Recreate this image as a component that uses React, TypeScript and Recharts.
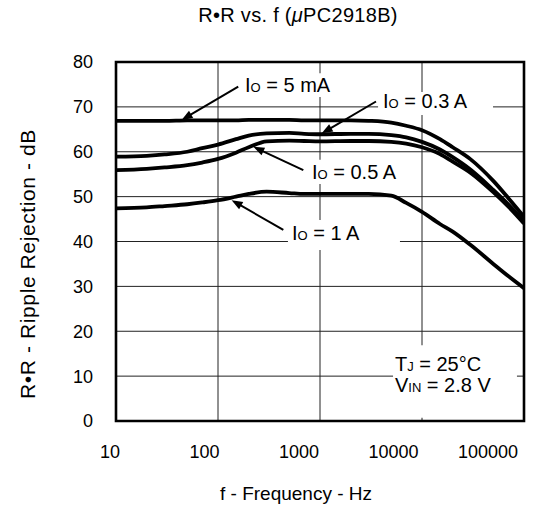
import React from 'react';
import {
  LineChart,
  Line,
  XAxis,
  YAxis,
  CartesianGrid,
  ReferenceArea,
  ReferenceLine,
  ReferenceDot,
} from 'recharts';

const FONT = '"Liberation Sans", Arial, Helvetica, sans-serif';

// ---- data ----
const frequencies = [10, 20, 30, 50, 70, 100, 150, 200, 300, 500, 700, 1000, 2000, 3000, 5000, 7000, 10000, 15000, 20000, 30000, 50000, 70000, 100000];
const io5mA = [66.9, 66.9, 66.9, 67.0, 67.0, 67.0, 67.0, 67.1, 67.1, 67.1, 67.0, 67.0, 67.0, 66.9, 66.5, 65.8, 64.8, 62.8, 61.0, 58.3, 53.5, 49.7, 45.5];
const io03A = [58.9, 59.1, 59.4, 60.0, 60.8, 61.6, 62.8, 63.6, 64.1, 64.2, 64.0, 63.9, 64.0, 64.0, 63.7, 63.2, 62.2, 60.5, 58.8, 56.0, 51.5, 48.3, 44.5];
const io05A = [55.9, 56.2, 56.5, 57.0, 57.6, 58.4, 59.8, 61.0, 62.3, 62.5, 62.4, 62.3, 62.4, 62.4, 62.2, 61.8, 61.0, 59.5, 57.8, 55.3, 51.0, 47.8, 44.0];
const io1A = [47.4, 47.6, 47.9, 48.3, 48.7, 49.2, 50.0, 50.6, 51.1, 50.8, 50.6, 50.6, 50.6, 50.6, 50.2, 48.6, 46.6, 43.9, 42.2, 39.2, 35.0, 32.3, 29.6];

const xTicks = [10, 100, 1000, 10000, 100000];
const yTicks = [0, 10, 20, 30, 40, 50, 60, 70, 80];

const title = 'R•R vs. f (';
const titleMu = 'μ';
const titleRest = 'PC2918B)';
const xTitle = 'f - Frequency - Hz';
const yTitle = 'R•R - Ripple Rejection - dB';

// annotation texts and their anchor points (data space)
const labelTexts = [
  { f: 184, v: 74.9, main: 'I', sub: 'O', rest: ' = 5 mA' },
  { f: 4150, v: 71.4, main: 'I', sub: 'O', rest: ' = 0.3 A' },
  { f: 835, v: 55.6, main: 'I', sub: 'O', rest: ' = 0.5 A' },
  { f: 531, v: 42.0, main: 'I', sub: 'O', rest: ' = 1 A' },
  { f: 5430, v: 12.7, main: 'T', sub: 'J', rest: ' = 25°C' },
  { f: 5430, v: 8.0, main: 'V', sub: 'IN', rest: ' = 2.8 V' },
];
const arrows = [
  { fromF: 158, fromV: 74.5, toF: 44, toV: 67.1 },
  { fromF: 3540, fromV: 71.2, toF: 1040, toV: 64.1 },
  { fromF: 686, fromV: 55.9, toF: 222, toV: 61.1 },
  { fromF: 437, fromV: 42.6, toF: 136, toV: 49.2 },
];
const maskBoxes = [
  { f1: 172, f2: 1435, v1: 72.2, v2: 77.5 },
  { f1: 3710, f2: 49700, v1: 68.2, v2: 73.3 },
  { f1: 746, f2: 6960, v1: 52.8, v2: 58.2 },
  { f1: 485, f2: 6080, v1: 38.1, v2: 44.8 },
  { f1: 5200, f2: 85300, v1: 0.7, v2: 16.9 },
];

const data = frequencies.map((f, i) => ({
  f,
  i5mA: io5mA[i],
  i03A: io03A[i],
  i05A: io05A[i],
  i1A: io1A[i],
}));

const ArrowShape = (p: any) => {
  const { x1, y1, x2, y2 } = p;
  if ([x1, y1, x2, y2].some((v) => typeof v !== 'number' || isNaN(v))) return null;
  const dx = x2 - x1;
  const dy = y2 - y1;
  const len = Math.hypot(dx, dy) || 1;
  const ux = dx / len;
  const uy = dy / len;
  const hl = 11;
  const hw = 4.2;
  const bx = x2 - ux * hl;
  const by = y2 - uy * hl;
  const px = -uy;
  const py = ux;
  return (
    <g>
      <line x1={x1} y1={y1} x2={bx + ux * 2} y2={by + uy * 2} stroke="#000" strokeWidth={2} />
      <polygon
        points={`${x2},${y2} ${bx + px * hw},${by + py * hw} ${bx - px * hw},${by - py * hw}`}
        fill="#000"
      />
    </g>
  );
};

const makeLabelShape = (main: string, sub: string, rest: string) => (p: any) => {
  const { cx, cy } = p;
  if (typeof cx !== 'number' || typeof cy !== 'number') return null;
  return (
    <text
      x={cx}
      y={cy}
      dy="0.36em"
      fontFamily={FONT}
      fontSize={20}
      fill="#000"
      style={{ whiteSpace: 'pre' }}
    >
      <tspan>{main}</tspan>
      <tspan fontSize={13}>{sub}</tspan>
      <tspan>{rest}</tspan>
    </text>
  );
};

const XTick = (p: any) => {
  const { x, y, payload, index } = p;
  return (
    <text
      x={x - 6 - 7.5 * index}
      y={y}
      dy="0.71em"
      textAnchor="middle"
      fontFamily={FONT}
      fontSize={18}
      fill="#000"
    >
      {payload.value}
    </text>
  );
};

const XTitle = (p: any) => {
  const vb = p.viewBox || {};
  return (
    <text
      x={vb.x + vb.width / 2 - 24}
      y={vb.y + 79}
      textAnchor="middle"
      fontFamily={FONT}
      fontSize={19}
      fill="#000"
    >
      {xTitle}
    </text>
  );
};

const YTitle = (p: any) => {
  const vb = p.viewBox || {};
  const x = vb.x + 35;
  const y = vb.y + vb.height / 2 + 22.5;
  return (
    <text
      x={x}
      y={y}
      transform={`rotate(-90, ${x}, ${y})`}
      textAnchor="middle"
      fontFamily={FONT}
      fontSize={21}
      letterSpacing={0.6}
      fill="#000"
    >
      {yTitle}
    </text>
  );
};

export default function App() {
  return (
    <div style={{ position: 'absolute', left: 0, top: 0, width: 560, height: 509, background: '#fff' }}>
      <div
        style={{
          position: 'absolute',
          left: 298,
          top: 5,
          transform: 'translateX(-50%)',
          fontFamily: FONT,
          fontSize: 20,
          lineHeight: '20px',
          letterSpacing: 0.3,
          whiteSpace: 'nowrap',
          color: '#000',
        }}
      >
        {title}
        <span style={{ fontStyle: 'italic' }}>{titleMu}</span>
        {titleRest}
      </div>
      <LineChart width={560} height={509} data={data} margin={{ top: 62, right: 36, left: 0, bottom: 0 }}>
        <CartesianGrid stroke="#222" strokeWidth={1} />
        <XAxis
          dataKey="f"
          type="number"
          scale="log"
          domain={[10, 100000]}
          ticks={xTicks}
          tick={<XTick />}
          tickLine={false}
          axisLine={false}
          tickSize={0}
          tickMargin={24}
          height={88}
          allowDataOverflow
          label={{ content: XTitle }}
        />
        <YAxis
          type="number"
          domain={[0, 80]}
          ticks={yTicks}
          tickLine={false}
          axisLine={false}
          tickSize={0}
          tickMargin={23}
          width={116}
          tick={{ fill: '#000', fontSize: 18, fontFamily: FONT }}
          label={{ content: YTitle }}
        />
        {maskBoxes.map((b, i) => (
          <ReferenceArea
            key={`m${i}`}
            x1={b.f1}
            x2={b.f2}
            y1={b.v1}
            y2={b.v2}
            fill="#fff"
            fillOpacity={1}
            stroke="none"
          />
        ))}
        <Line type="monotone" dataKey="i5mA" stroke="#000" strokeWidth={3.8} dot={false} isAnimationActive={false} />
        <Line type="monotone" dataKey="i03A" stroke="#000" strokeWidth={3.8} dot={false} isAnimationActive={false} />
        <Line type="monotone" dataKey="i05A" stroke="#000" strokeWidth={3.8} dot={false} isAnimationActive={false} />
        <Line type="monotone" dataKey="i1A" stroke="#000" strokeWidth={3.8} dot={false} isAnimationActive={false} />
        {arrows.map((a, i) => (
          <ReferenceLine
            key={`a${i}`}
            segment={[
              { x: a.fromF, y: a.fromV },
              { x: a.toF, y: a.toV },
            ]}
            shape={ArrowShape}
          />
        ))}
        {labelTexts.map((l, i) => (
          <ReferenceDot key={`l${i}`} x={l.f} y={l.v} r={1} shape={makeLabelShape(l.main, l.sub, l.rest)} />
        ))}
        <ReferenceArea x1={10} x2={100000} y1={0} y2={80} fill="none" stroke="#000" strokeWidth={2.6} />
      </LineChart>
    </div>
  );
}
